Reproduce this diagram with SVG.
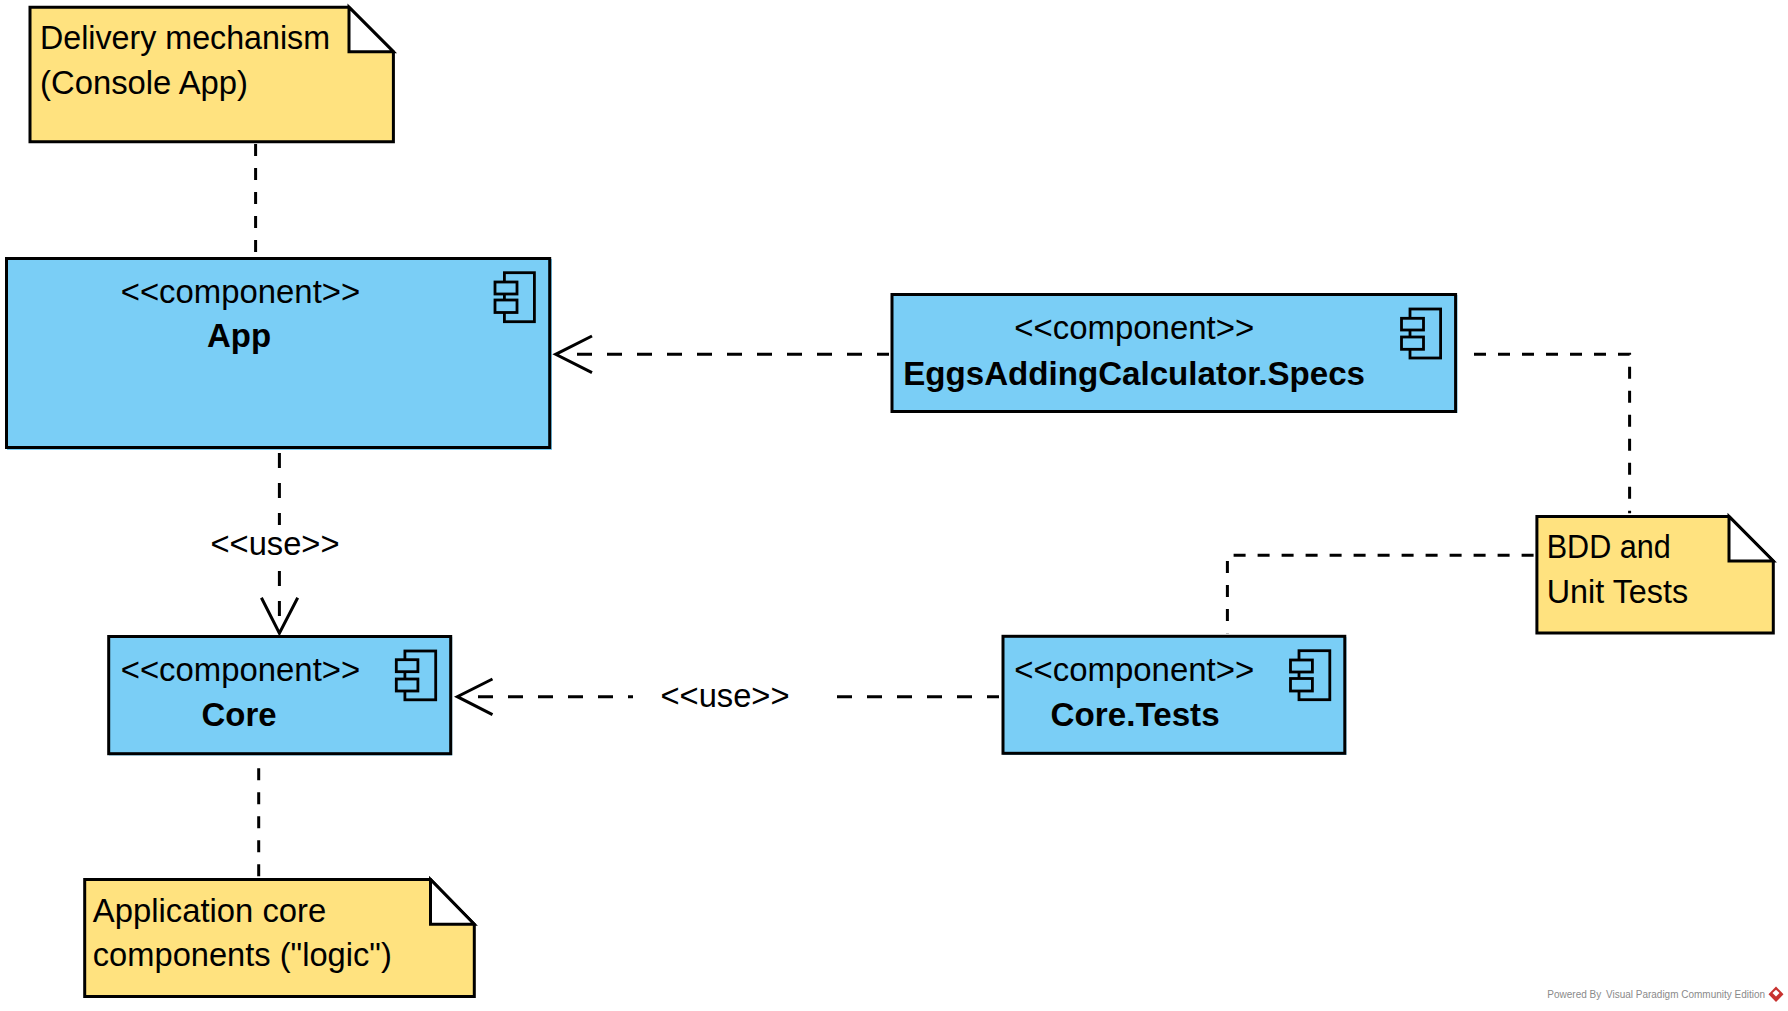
<svg xmlns="http://www.w3.org/2000/svg" width="1788" height="1011" viewBox="0 0 1788 1011">
<style>
text{font-family:"Liberation Sans",Arial,sans-serif;fill:#000}
.t{font-size:33px}
.b{font-size:33px;font-weight:bold}
.box{fill:#7acef6;stroke:#000;stroke-width:3}
.halo{fill:#7acef6}
.note{fill:#ffe27f;stroke:#000;stroke-width:3;stroke-linejoin:miter}
.fold{fill:#fff;stroke:#000;stroke-width:3;stroke-linejoin:miter}
.ico{fill:none;stroke:#000;stroke-width:2.8}
.ics{fill:#7acef6;stroke:#000;stroke-width:2.8}
.dep{fill:none;stroke:#000;stroke-width:3;stroke-dasharray:15 15}
.anc{fill:none;stroke:#000;stroke-width:3;stroke-dasharray:12 12}
.arr{fill:none;stroke:#000;stroke-width:3}
.foot{font-size:10px;fill:#8a8a8a}
</style>
<rect width="1788" height="1011" fill="#fff"/>
<g id="connectors">
<path class="anc" d="M255.6 144V253"/>
<path class="dep" d="M279.4 453V525"/>
<path class="dep" d="M279.4 571V633"/>
<path class="arr" d="M261.4 597.7L279.4 633.3L297.7 597.7"/>
<path class="dep" d="M577 354.3H889"/>
<path class="arr" d="M592 336L555.7 354.3L592 372.7"/>
<path class="dep" d="M478 696.7H633"/>
<path class="dep" d="M837 696.7H999"/>
<path class="arr" d="M492.5 679L457.3 696.7L492.5 714.7"/>
<path class="anc" d="M1474 354.3H1629.6V513.3"/>
<path class="anc" d="M1533.6 555.3H1227.4V633.3"/>
<path class="anc" d="M258.7 768.3V876.7"/>
<text class="t" x="210.5" y="554.5" textLength="129" lengthAdjust="spacingAndGlyphs">&lt;&lt;use&gt;&gt;</text>
<text class="t" x="660.5" y="707" textLength="129" lengthAdjust="spacingAndGlyphs">&lt;&lt;use&gt;&gt;</text>
</g>
<g id="note-delivery">
<path class="note" d="M30 7.2H349L393.4 51.7V141.7H30Z"/>
<path class="fold" d="M349 7.2V51.7H393.4Z"/>
<text class="t" x="40" y="49" textLength="290" lengthAdjust="spacingAndGlyphs">Delivery mechanism</text>
<text class="t" x="40" y="94" textLength="208" lengthAdjust="spacingAndGlyphs">(Console App)</text>
</g>
<g id="comp-app">
<rect class="halo" x="7" y="259" width="545" height="191"/>
<rect class="box" x="6.5" y="258.5" width="543.2" height="189"/>
<rect class="ico" x="504.4" y="272.7" width="30" height="49"/>
<rect class="ics" x="495" y="282" width="22" height="12"/>
<rect class="ics" x="495" y="300" width="22" height="12.5"/>
<text class="t" x="120.7" y="302.5" textLength="239.5" lengthAdjust="spacingAndGlyphs">&lt;&lt;component&gt;&gt;</text>
<text class="b" x="207" y="347" textLength="64" lengthAdjust="spacingAndGlyphs">App</text>
</g>
<g id="comp-specs">
<rect class="halo" x="892" y="295" width="565.5" height="118"/>
<rect class="box" x="892" y="294.5" width="563.6" height="117"/>
<rect class="ico" x="1410" y="309" width="30.6" height="49"/>
<rect class="ics" x="1401.5" y="318.3" width="22" height="11.7"/>
<rect class="ics" x="1401.5" y="337" width="22" height="12.3"/>
<text class="t" x="1014.2" y="339" textLength="240" lengthAdjust="spacingAndGlyphs">&lt;&lt;component&gt;&gt;</text>
<text class="b" x="903.2" y="384.5" textLength="461.8" lengthAdjust="spacingAndGlyphs">EggsAddingCalculator.Specs</text>
</g>
<g id="comp-core">
<rect class="halo" x="109" y="637" width="343.3" height="118.5"/>
<rect class="box" x="108.7" y="636.5" width="342" height="117.2"/>
<rect class="ico" x="404.9" y="651" width="30.8" height="48.8"/>
<rect class="ics" x="396.3" y="659.7" width="21.6" height="12"/>
<rect class="ics" x="396.3" y="679" width="21.6" height="12"/>
<text class="t" x="120.7" y="680.7" textLength="239.5" lengthAdjust="spacingAndGlyphs">&lt;&lt;component&gt;&gt;</text>
<text class="b" x="201.5" y="725.7" textLength="75" lengthAdjust="spacingAndGlyphs">Core</text>
</g>
<g id="comp-core-tests">
<rect class="halo" x="1003" y="637" width="343.5" height="118"/>
<rect class="box" x="1003" y="636.3" width="341.8" height="117"/>
<rect class="ico" x="1299" y="650.7" width="30.8" height="49"/>
<rect class="ics" x="1290.5" y="660" width="21.9" height="12"/>
<rect class="ics" x="1290.5" y="678.5" width="21.9" height="12.5"/>
<text class="t" x="1014.2" y="680.7" textLength="240" lengthAdjust="spacingAndGlyphs">&lt;&lt;component&gt;&gt;</text>
<text class="b" x="1050.6" y="725.7" textLength="169" lengthAdjust="spacingAndGlyphs">Core.Tests</text>
</g>
<g id="note-bdd">
<path class="note" d="M1536.9 516.5H1729L1773.3 561V633H1536.9Z"/>
<path class="fold" d="M1729 516.5V561H1773.3Z"/>
<text class="t" x="1546.7" y="558.3" textLength="124" lengthAdjust="spacingAndGlyphs">BDD and</text>
<text class="t" x="1546.7" y="603" textLength="141.5" lengthAdjust="spacingAndGlyphs">Unit Tests</text>
</g>
<g id="note-core">
<path class="note" d="M84.7 879.5H430.5L474.3 924.3V996.5H84.7Z"/>
<path class="fold" d="M430.5 879.5V924.3H474.3Z"/>
<text class="t" x="92.8" y="922" textLength="233.5" lengthAdjust="spacingAndGlyphs">Application core</text>
<text class="t" x="92.8" y="966.3" textLength="299" lengthAdjust="spacingAndGlyphs">components ("logic")</text>
</g>
<g id="footer">
<text class="foot" x="1547.3" y="997.7" textLength="54" lengthAdjust="spacingAndGlyphs">Powered By</text>
<text class="foot" x="1606" y="997.7" textLength="159" lengthAdjust="spacingAndGlyphs">Visual Paradigm Community Edition</text>
<path d="M1776 986.5L1783.5 994.3L1776 1002L1768.5 994.3Z" fill="#c8322f"/>
<path d="M1772.5 993L1776 989.8L1779.5 993L1776 996.5Z" fill="#fff"/>
</g>
</svg>
